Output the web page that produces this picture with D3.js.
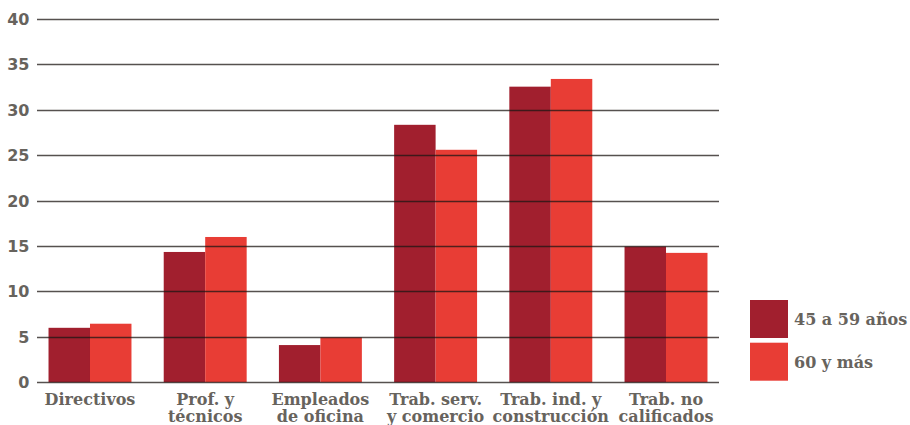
<!DOCTYPE html>
<html><head><meta charset="utf-8">
<script src="https://cdn.jsdelivr.net/npm/d3@7"></script>
<style>
body{margin:0;background:#fff;}
svg{display:block;}
.cat{font-family:"DejaVu Serif",serif;font-weight:bold;font-size:16px;fill:#67635d;}
.ytick{font-family:"DejaVu Sans",Verdana,sans-serif;font-weight:bold;font-size:16px;fill:#67635d;}
.leg{font-family:"DejaVu Serif",serif;font-weight:bold;font-size:16px;fill:#67635d;}
</style></head>
<body><svg id="c" width="910" height="425"></svg>
<script>
const categories = [["Directivos"],["Prof. y","técnicos"],["Empleados","de oficina"],["Trab. serv.","y comercio"],["Trab. ind. y","construcción"],["Trab. no","calificados"]];
const seriesNames = ["45 a 59 años","60 y más"];
const values4559 = [6.0, 14.35, 4.1, 28.35, 32.55, 14.95];
const values60 = [6.45, 16.0, 4.95, 25.6, 33.4, 14.25];
const yTicks = [0,5,10,15,20,25,30,35,40];
const colors = ["#a11f2e","#e83d35"];

const svg = d3.select("#c");
const x = d3.scaleBand().domain(d3.range(categories.length)).range([37,719]).paddingInner(0.28).paddingOuter(0.1);
const xs = d3.scaleBand().domain([0,1]).range([0,x.bandwidth()]);
const y = d3.scaleLinear().domain([0,40]).range([382.3,19]);

const series = [values4559, values60];
series.forEach((vals,si)=>{
  svg.append("g").selectAll("rect").data(vals).join("rect")
    .attr("x",(d,i)=>x(i)+xs(si))
    .attr("width",xs.bandwidth())
    .attr("y",d=>y(d))
    .attr("height",d=>y(0)-y(d))
    .attr("fill",colors[si]);
});

// gridlines over bars
const grid = svg.append("g");
grid.selectAll("line").data(yTicks).join("line")
  .attr("x1",37).attr("x2",719)
  .attr("y1",d=>Math.round(y(d))+0.5).attr("y2",d=>Math.round(y(d))+0.5)
  .attr("stroke","#1e1714").attr("stroke-opacity",0.75).attr("stroke-width",1.4);

svg.append("g").selectAll("text").data(yTicks).join("text")
  .attr("class","ytick")
  .attr("x",29.5).attr("y",d=>y(d)+6)
  .attr("text-anchor","end")
  .text(d=>d);

const cg = svg.append("g").selectAll("text").data(categories).join("text")
  .attr("class","cat")
  .attr("text-anchor","middle")
  .attr("x",(d,i)=>x(i)+x.bandwidth()/2)
  .attr("y",405);
cg.selectAll("tspan").data(d=>d).join("tspan")
  .attr("x",function(){return this.parentNode.getAttribute("x");})
  .attr("dy",(d,i)=>i===0?0:16.7)
  .text(d=>d);

const lg = svg.append("g").selectAll("g").data(seriesNames).join("g")
  .attr("transform",(d,i)=>`translate(750,${300+i*42.7})`);
lg.append("rect").attr("width",38).attr("height",38).attr("fill",(d,i)=>colors[i]);
lg.append("text").attr("class","leg").attr("x",44).attr("y",25).text(d=>d);
</script></body></html>
